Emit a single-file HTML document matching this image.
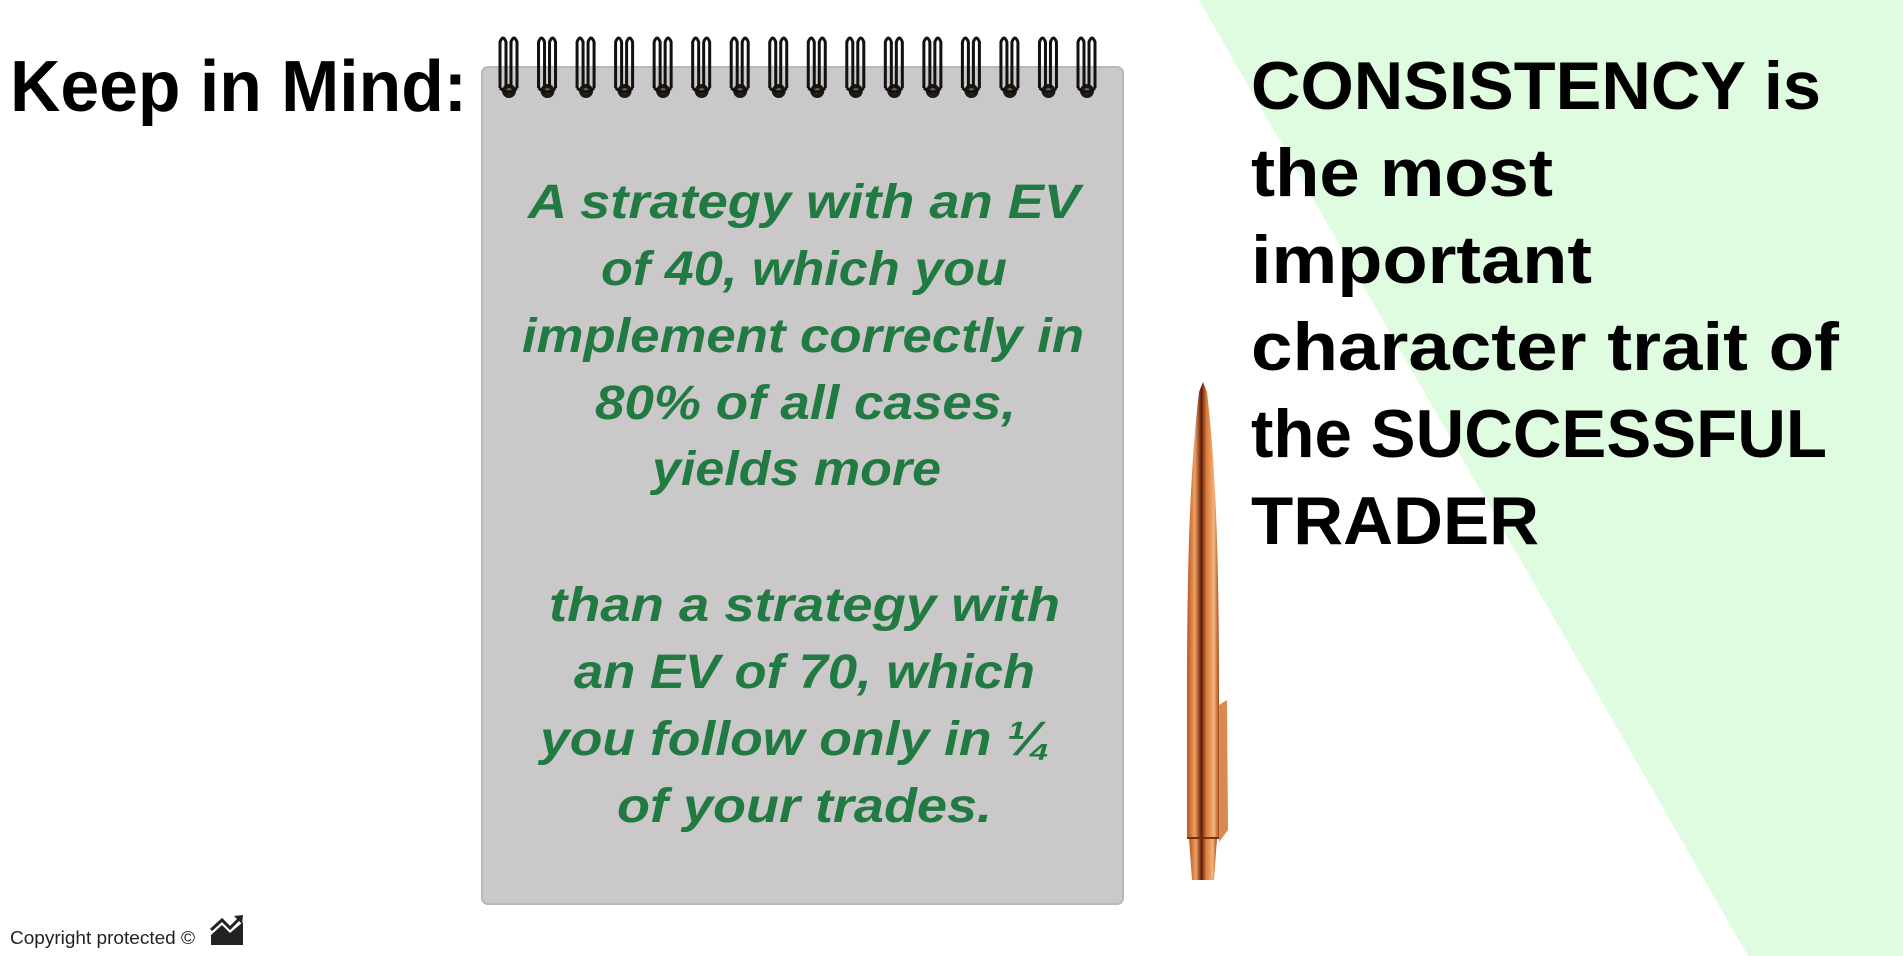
<!DOCTYPE html>
<html><head><meta charset="utf-8"><style>
html,body{margin:0;padding:0;background:#fff;}
svg{display:block;}
</style></head><body>
<svg width="1903" height="956" viewBox="0 0 1903 956" xmlns="http://www.w3.org/2000/svg">
<defs>
<linearGradient id="cop" x1="0" x2="1" y1="0" y2="0">
<stop offset="0" stop-color="#b8561f"/><stop offset="0.25" stop-color="#f0a060"/><stop offset="0.45" stop-color="#5a1a08"/><stop offset="0.6" stop-color="#d87a3a"/><stop offset="0.85" stop-color="#f6b27a"/><stop offset="1" stop-color="#a4481a"/>
</linearGradient>
</defs>
<polygon points="1199,0 1903,0 1903,956 1748,956" fill="#e0fce0"/>
<text x="10" y="111" font-family="Liberation Sans, sans-serif" font-weight="bold" font-size="72" textLength="457" lengthAdjust="spacingAndGlyphs" fill="#000">Keep in Mind:</text>
<g>
<rect x="482" y="67" width="641" height="837" rx="6" fill="#cac8c9" stroke="#b9b7b8" stroke-width="2"/>
<g id="rings"></g>
</g>
<g font-family="Liberation Sans, sans-serif" font-weight="bold" font-style="italic" font-size="48" fill="#217a42">
<text x="528" y="218" textLength="552" lengthAdjust="spacingAndGlyphs">A strategy with an EV</text>
<text x="601" y="285" textLength="406" lengthAdjust="spacingAndGlyphs">of 40, which you</text>
<text x="522" y="352" textLength="562" lengthAdjust="spacingAndGlyphs">implement correctly in</text>
<text x="595" y="419" textLength="421" lengthAdjust="spacingAndGlyphs">80% of all cases,</text>
<text x="652" y="485" textLength="289" lengthAdjust="spacingAndGlyphs">yields more</text>
<text x="549" y="621" textLength="511" lengthAdjust="spacingAndGlyphs">than a strategy with</text>
<text x="574" y="688" textLength="461" lengthAdjust="spacingAndGlyphs">an EV of 70, which</text>
<text x="540" y="755" textLength="511" lengthAdjust="spacingAndGlyphs">you follow only in ¼</text>
<text x="617" y="822" textLength="375" lengthAdjust="spacingAndGlyphs">of your trades.</text>
</g>
<g>
<path d="M1203,382 L1207,392 C1216,470 1219,560 1219,700 L1219,838 L1187,838 L1187,700 C1187,560 1190,470 1199,392 Z" fill="url(#cop)"/>
<path d="M1189,838 L1217,838 L1214,880 L1192,880 Z" fill="url(#cop)"/>
<path d="M1219,705 L1227,700 L1228,830 L1219,842 Z" fill="#d98a4e"/>
<line x1="1187" y1="838" x2="1219" y2="838" stroke="#7a3010" stroke-width="2"/>
</g>
<g font-family="Liberation Sans, sans-serif" font-weight="bold" font-size="68" fill="#000">
<text x="1251" y="109" textLength="570" lengthAdjust="spacingAndGlyphs">CONSISTENCY is</text>
<text x="1251" y="196" textLength="302" lengthAdjust="spacingAndGlyphs">the most</text>
<text x="1251" y="283" textLength="341" lengthAdjust="spacingAndGlyphs">important</text>
<text x="1251" y="370" textLength="588" lengthAdjust="spacingAndGlyphs">character trait of</text>
<text x="1251" y="457" textLength="576" lengthAdjust="spacingAndGlyphs">the SUCCESSFUL</text>
<text x="1251" y="544" textLength="288" lengthAdjust="spacingAndGlyphs">TRADER</text>
</g>
<text x="10" y="944" font-family="Liberation Sans, sans-serif" font-size="18" fill="#222" textLength="185" lengthAdjust="spacingAndGlyphs">Copyright protected ©</text>
<g>
<polygon points="211,945 211,935 222,925 230,933 243,922 243,945" fill="#222"/>
<polyline points="211,930 222,920 230,928 240,918" fill="none" stroke="#222" stroke-width="3"/>
<polygon points="234,916 243,915 242,924" fill="#222"/>
</g>
</svg>
<script>
var g=document.getElementById('rings');
var ns='http://www.w3.org/2000/svg';
for(var i=0;i<16;i++){
  var cx=509+i*(1087-509)/15;
  var grp=document.createElementNS(ns,'g');
  
  
  var hole=document.createElementNS(ns,'circle');
  hole.setAttribute('cx',cx);hole.setAttribute('cy',91);hole.setAttribute('r',7);hole.setAttribute('fill','#1a1a1a');
  var hole2=document.createElementNS(ns,'circle');
  hole2.setAttribute('cx',cx);hole2.setAttribute('cy',91);hole2.setAttribute('r',3);hole2.setAttribute('fill','#8a5a20');
  var p=document.createElementNS(ns,'path');
  p.setAttribute('d','M'+(cx-9)+',88 L'+(cx-9)+',42 Q'+(cx-6)+',34 '+(cx-3)+',42 L'+(cx-3)+',88 M'+(cx+2)+',88 L'+(cx+2)+',42 Q'+(cx+5)+',34 '+(cx+8)+',42 L'+(cx+8)+',88 M'+(cx-9)+',88 Q'+cx+',96 '+(cx+8)+',88');
  p.setAttribute('fill','none');p.setAttribute('stroke','#111');p.setAttribute('stroke-width','3');
  grp.appendChild(hole);grp.appendChild(hole2);grp.appendChild(p);
  g.appendChild(grp);
}
</script>
</body></html>
